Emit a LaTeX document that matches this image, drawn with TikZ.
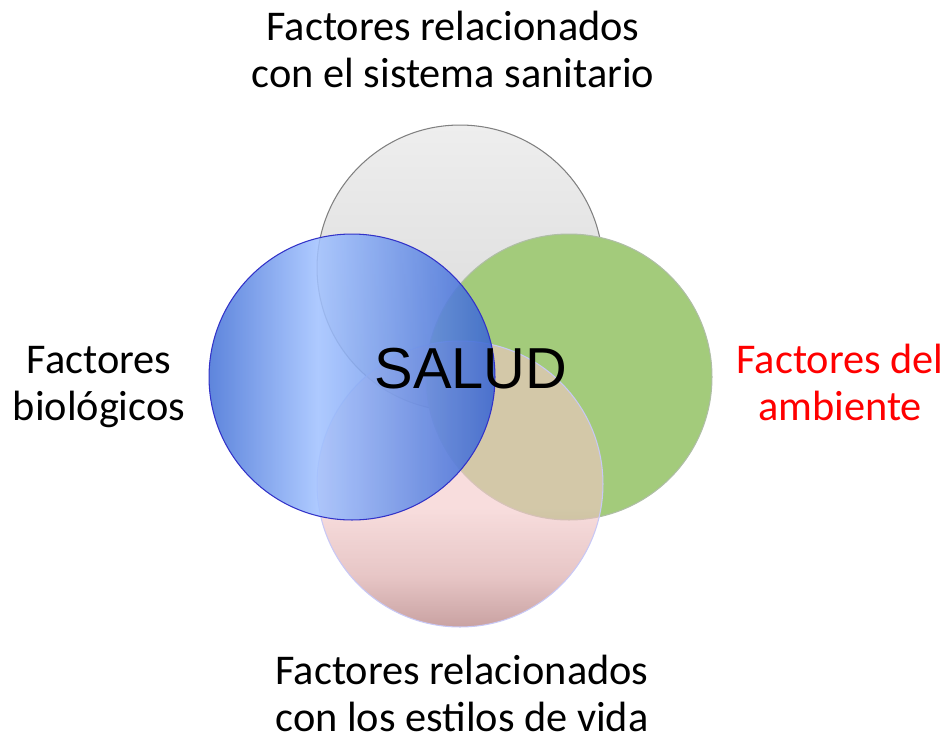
\documentclass[tikz,border=0pt]{standalone}
\usepackage{fontspec}
\setmainfont{Carlito}
\newfontfamily\saludfont{Liberation Sans}

\definecolor{sisttop}{RGB}{238,238,238}
\definecolor{sistbot}{RGB}{214,214,214}
\definecolor{sistline}{RGB}{128,128,128}
\definecolor{ambfill}{RGB}{163,203,123}
\definecolor{ambline}{RGB}{175,190,165}
\definecolor{vidatop}{RGB}{243,199,199}
\definecolor{vidamid}{RGB}{215,160,160}
\definecolor{vidabot}{RGB}{165,100,100}
\definecolor{vidaline}{RGB}{200,200,245}
\definecolor{bioleft}{RGB}{70,115,215}
\definecolor{biolight}{RGB}{162,194,255}
\definecolor{bioright}{RGB}{55,100,210}
\definecolor{bioline}{RGB}{50,50,200}
\definecolor{ambtext}{RGB}{255,0,0}

\pgfdeclarehorizontalshading{bioshade}{100bp}{color(0bp)=(bioleft); color(25bp)=(bioleft); color(44bp)=(biolight); color(75bp)=(bioright); color(100bp)=(bioright)}
\pgfdeclareverticalshading{vidashade}{100bp}{color(0bp)=(vidabot); color(25bp)=(vidabot); color(34bp)=(vidamid); color(46bp)=(vidatop); color(100bp)=(vidatop)}

\begin{document}
\begin{tikzpicture}[
      x=0.02cm, y=-0.02cm,
      circ/.style={
        circle,
        minimum size=5.72cm,
        inner sep=0pt,
        line width=0.6pt
      },
      lbl/.style={
        align=center,
        inner sep=0pt,
        font=\fontsize{24.1}{26.8}\selectfont
      }
    ]
    \useasboundingbox (0,0) rectangle (946,744);

    % circles, back to front
    \node[circ, draw=sistline, top color=sisttop, bottom color=sistbot] (sist) at (460,268) {};
    \node[circ, draw=ambline, fill=ambfill] (amb) at (569,377) {};
    \node[circ, draw=vidaline, shading=vidashade, fill opacity=0.6, draw opacity=1] (vida) at (460,484) {};
    \node[circ, draw=bioline, shading=bioshade, fill opacity=0.87, draw opacity=1] (bio) at (352,377) {};

    \node[font=\saludfont\fontsize{32.9}{36}\selectfont, inner sep=0pt] (salud) at (471,369) {SALUD};

    % labels
    \node[lbl] (sistlbl) at (453,49) {Factores relacionados\\con el sistema sanitario};
    \node[lbl] (vidalbl) at (462,693) {Factores relacionados\\con los estilos de vida};
    \node[lbl] (biolbl) at (99,387) {Factores\\biológicos};
    \node[lbl, text=ambtext] (amblbl) at (840,382) {Factores del\\ambiente};
  \end{tikzpicture}
\end{document}
